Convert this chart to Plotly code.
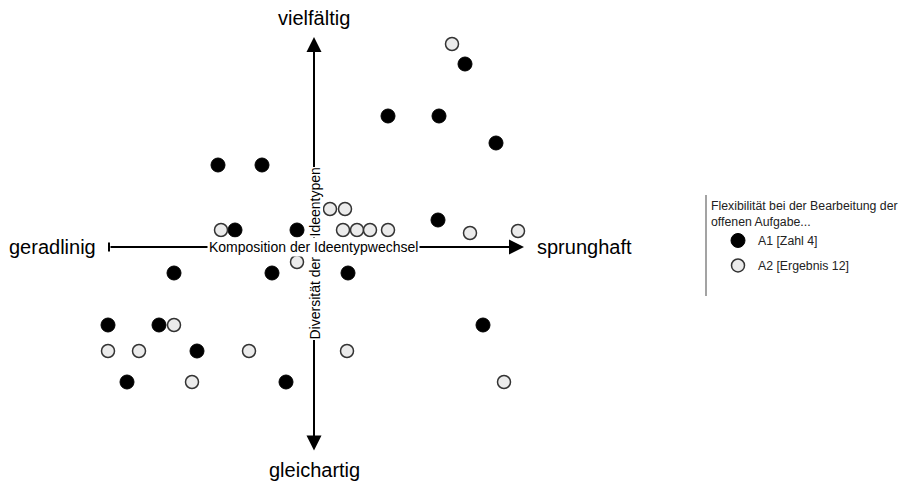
import plotly.graph_objects as go

# Coordinates: origin at axis crossing; x = Komposition der Ideentypwechsel (geradlinig -> sprunghaft),
# y = Diversität der Ideentypen (gleichartig -> vielfältig)
a1_x = [15.1, 7.4, 12.5, 18.2, -9.6, -5.2, -7.9, -1.7, 12.4, -14.0, -4.2, 3.4, -20.6, -15.5, 16.9, -11.7, -18.7, -2.8]
a1_y = [18.3, 13.1, 13.1, 10.4, 8.2, 8.2, 1.7, 1.7, 2.7, -2.6, -2.6, -2.6, -7.8, -7.8, -7.8, -10.4, -13.5, -13.5]

a2_x = [13.8, 1.6, 3.1, -9.3, 2.9, 4.3, 5.6, 7.4, 15.6, 20.4, -1.7, -14.0, -20.6, -17.5, -6.5, 3.3, -12.2, 19.0]
a2_y = [20.3, 3.8, 3.8, 1.7, 1.7, 1.7, 1.7, 1.7, 1.4, 1.6, -1.5, -7.8, -10.4, -10.4, -10.4, -10.4, -13.5, -13.5]

series_names = ["A1 [Zahl 4]", "A2 [Ergebnis 12]"]
legend_title = "Flexibilität bei der Bearbeitung der<br>offenen Aufgabe..."

x_label = "Komposition der Ideentypwechsel"
y_label_top = "Ideentypen"
y_label_bottom = "Diversität der"
end_left, end_right = "geradlinig", "sprunghaft"
end_top, end_bottom = "vielfältig", "gleichartig"

FONT = "Liberation Sans, Arial, Helvetica, sans-serif"

W, H = 906, 478  # page body has an 8px margin


def px(p):
    return (p - 8) / W


def py(p):
    return 1 - (p - 8) / H


fig = go.Figure()
fig.add_trace(go.Scatter(
    x=a1_x, y=a1_y, mode="markers", name=series_names[0], legendgroup="a1",
    marker=dict(size=14, color="#000000", line=dict(color="#000000", width=1)),
))
fig.add_trace(go.Scatter(
    x=a2_x, y=a2_y, mode="markers", name=series_names[1], legendgroup="a2",
    marker=dict(size=13, color="#ebebeb", line=dict(color="#333333", width=1.5)),
))

annotations = []
# vertical double arrow
annotations.append(dict(x=0, y=21.0, ax=0, ay=-20.5, xref="x", yref="y", axref="x", ayref="y",
                        showarrow=True, arrowhead=2, startarrowhead=2, arrowside="end+start",
                        arrowsize=1.5, startarrowsize=1.5, arrowwidth=2, arrowcolor="#000000", text=""))
# horizontal arrow
annotations.append(dict(x=21.0, y=0, ax=-20.5, ay=0, xref="x", yref="y", axref="x", ayref="y",
                        showarrow=True, arrowhead=2, arrowsize=1.5, arrowwidth=2,
                        arrowcolor="#000000", text=""))
# center labels with white background
annotations.append(dict(x=0, y=4.45, xref="x", yref="y", text=y_label_top, textangle=-90,
                        showarrow=False, bgcolor="#ffffff", borderpad=0,
                        font=dict(family=FONT, size=14, color="#000")))
annotations.append(dict(x=0, y=-5.15, xref="x", yref="y", text=y_label_bottom, textangle=-90,
                        showarrow=False, bgcolor="#ffffff", borderpad=0,
                        font=dict(family=FONT, size=14, color="#000")))
annotations.append(dict(x=-0.1, y=0, xref="x", yref="y", text=x_label,
                        showarrow=False, bgcolor="#ffffff",
                        font=dict(family=FONT, size=14, color="#000")))
# end labels
annotations.append(dict(x=-21.6, y=0, xref="x", yref="y", text=end_left, xanchor="right",
                        showarrow=False, font=dict(family=FONT, size=20, color="#000")))
annotations.append(dict(x=22.1, y=0, xref="x", yref="y", text=end_right, xanchor="left",
                        showarrow=False, font=dict(family=FONT, size=20, color="#000")))
annotations.append(dict(x=0, y=22.9, xref="x", yref="y", text=end_top,
                        showarrow=False, font=dict(family=FONT, size=20, color="#000")))
annotations.append(dict(x=0, y=-22.3, xref="x", yref="y", text=end_bottom,
                        showarrow=False, font=dict(family=FONT, size=20, color="#000")))

shapes = [
    # tee at left end of horizontal arrow
    dict(type="line", x0=-20.5, x1=-20.5, y0=-0.45, y1=0.45, xref="x", yref="y",
         line=dict(color="#000", width=2)),
    # legend side line
    dict(type="line", x0=px(706), x1=px(706), y0=py(195), y1=py(296),
         xref="paper", yref="paper", line=dict(color="#666666", width=1.2)),
]

fig.update_layout(
    width=W, height=H,
    margin=dict(l=0, r=0, t=0, b=0),
    paper_bgcolor="#ffffff", plot_bgcolor="#ffffff",
    xaxis=dict(range=[-30.6, 60.0], visible=False, fixedrange=True),
    yaxis=dict(range=[-23.9, 23.9], visible=False, fixedrange=True),
    showlegend=True,
    legend=dict(x=px(709), y=py(194), xanchor="left", yanchor="top",
                title=dict(text=legend_title, font=dict(family=FONT, size=12.3, color="#222")),
                font=dict(family=FONT, size=12.3, color="#222"),
                traceorder="grouped", tracegroupgap=6, indentation=9,
                bgcolor="rgba(0,0,0,0)", itemclick=False, itemdoubleclick=False),
    annotations=annotations,
    shapes=shapes,
    font=dict(family=FONT),
)

fig.write_html("out.html")
